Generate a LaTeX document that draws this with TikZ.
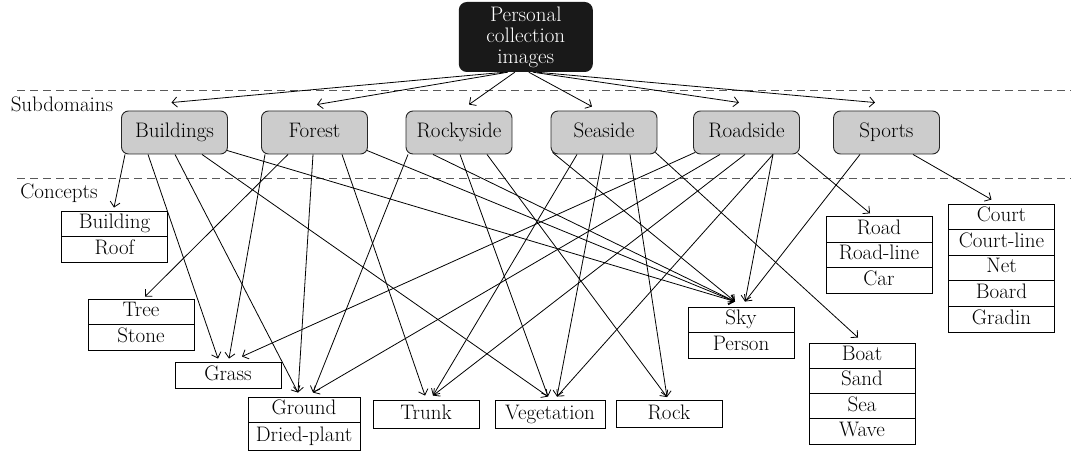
\documentclass[tikz,border=0pt]{standalone}
\usepackage{tikz}
\usetikzlibrary{arrows.meta}

\begin{document}
\begin{tikzpicture}[x=1pt,y=-1pt,font=\fontsize{21}{21}\selectfont,
  txt/.style={text height=14pt,text depth=4pt,inner sep=0pt},
  root/.style={fill=black!90,rounded corners=8pt,text=white,minimum width=134pt,minimum height=70pt,align=center,inner sep=0pt},
  subdom/.style={txt,draw=black!85,line width=0.9pt,fill=black!20,rounded corners=7pt,minimum width=106pt,minimum height=43pt},
  concept/.style={txt,draw,line width=0.9pt,minimum width=106pt,minimum height=25.5pt},
  link/.style={line width=0.8pt,-{Straight Barb[length=5pt,width=10pt]}},
  sep/.style={line width=0.9pt,black!65,dash pattern=on 8pt off 5pt}]

\useasboundingbox (0,0) rectangle (1071,454);

\draw[sep] (17,90) -- (1071,90);
\draw[sep] (17,178) -- (1071,178);
\node[txt] (sublabel) at (62,107) {Subdomains};
\node[txt] (conlabel) at (59,194) {Concepts};

\node[root] (root) at (525.8,37) {Personal\\collection\\images};

\node[subdom] (buildings) at (174.5,132.5) {Buildings};
\node[subdom] (forest) at (314.5,132.5) {Forest};
\node[subdom] (rockyside) at (459,132.5) {Rockyside};
\node[subdom] (seaside) at (604,132.5) {Seaside};
\node[subdom] (roadside) at (746.5,132.5) {Roadside};
\node[subdom] (sports) at (886.5,132.5) {Sports};

\node[concept] (building) at (114.5,223.75) {Building};
\node[concept] (roof) at (114.5,249.25) {Roof};
\node[concept] (tree) at (141,311.75) {Tree};
\node[concept] (stone) at (141,337.25) {Stone};
\node[concept,minimum height=26pt] (grass) at (228,375) {Grass};
\node[concept,minimum width=112pt] (ground) at (304,409.75) {Ground};
\node[concept,minimum width=112pt,minimum height=27.5pt] (dried) at (304,436.25) {Dried-plant};
\node[concept,minimum height=28pt] (trunk) at (426,414) {Trunk};
\node[concept,minimum width=110pt,minimum height=28pt] (vegetation) at (550,414) {Vegetation};
\node[concept,minimum height=27pt] (rock) at (669,414) {Rock};
\node[concept] (sky) at (741,319.75) {Sky};
\node[concept] (person) at (741,345.25) {Person};
\foreach \t [count=\i] in {Boat,Sand,Sea,Wave}
  \node[concept,minimum height=25.25pt] (sea\i) at (862,{330.4+25.25*\i}) {\t};
\foreach \t [count=\i] in {Road,Road-line,Car}
  \node[concept] (road\i) at (879,{204+25.5*\i}) {\t};
\foreach \t [count=\i] in {Court,Court-line,Net,Board,Gradin}
  \node[concept,minimum height=25.6pt] (court\i) at (1001.5,{191.2+25.6*\i}) {\t};

\draw[link] ([xshift=-21pt]root.south) -- ([xshift=-3pt,yshift=8pt]buildings.north);
\draw[link] ([xshift=-18pt]root.south) -- ([xshift=2.5pt,yshift=6pt]forest.north);
\draw[link] ([xshift=-11pt]root.south) -- ([xshift=10pt,yshift=6pt]rockyside.north);
\draw[link] ([xshift=3pt]root.south) -- ([xshift=-12pt,yshift=4pt]seaside.north);
\draw[link] ([xshift=7pt]root.south) -- ([xshift=-7.5pt,yshift=8pt]roadside.north);
\draw[link] ([xshift=11pt]root.south) -- ([xshift=-11.5pt,yshift=8pt]sports.north);

\draw[link] ([xshift=-49.5pt]buildings.south) -- ([xshift=-0.5pt,yshift=3pt]building.north);
\draw[link] ([xshift=-26.5pt]buildings.south) -- ([xshift=-10pt,yshift=3pt]grass.north);
\draw[link] ([xshift=0.5pt]buildings.south) -- ([xshift=-6pt,yshift=4pt]ground.north);
\draw[link] ([xshift=27.5pt]buildings.south) -- ([xshift=-2pt,yshift=3pt]vegetation.north);
\draw[link] ([xshift=-1pt,yshift=4pt]buildings.south east) -- ([xshift=-6pt,yshift=5pt]sky.north);

\draw[link] ([xshift=-49.5pt]forest.south) -- ([xshift=1pt,yshift=3pt]grass.north);
\draw[link] ([xshift=-26.5pt]forest.south) -- ([xshift=4pt,yshift=2pt]tree.north);
\draw[link] ([xshift=-1.5pt]forest.south) -- ([xshift=-6pt,yshift=4pt]ground.north);
\draw[link] ([xshift=27.5pt]forest.south) -- ([xshift=-1pt,yshift=4pt]trunk.north);
\draw[link] ([xshift=-1pt,yshift=4pt]forest.south east) -- ([xshift=-6pt,yshift=5pt]sky.north);

\draw[link] ([xshift=-51pt]rockyside.south) -- ([xshift=9pt,yshift=4pt]ground.north);
\draw[link] ([xshift=-26pt]rockyside.south) -- ([xshift=-6pt,yshift=5pt]sky.north);
\draw[link] ([xshift=1pt]rockyside.south) -- ([xshift=-2pt,yshift=3pt]vegetation.north);
\draw[link] ([xshift=28pt]rockyside.south) -- ([xshift=-2pt,yshift=3pt]rock.north);

\draw[link] ([xshift=2pt,yshift=2pt]seaside.south west) -- ([xshift=-6pt,yshift=5pt]sky.north);
\draw[link] ([xshift=-27pt]seaside.south) -- ([xshift=7pt,yshift=4pt]trunk.north);
\draw[link] ([xshift=-1pt]seaside.south) -- ([xshift=7pt,yshift=3pt]vegetation.north);
\draw[link] ([xshift=26pt]seaside.south) -- ([xshift=-2pt,yshift=3pt]rock.north);
\draw[link] ([xshift=-2pt,yshift=2pt]seaside.south east) -- ([xshift=-4pt,yshift=5pt]sea1.north);

\draw[link] ([xshift=2pt,yshift=2pt]roadside.south west) -- ([xshift=14pt,yshift=5pt]grass.north);
\draw[link] ([xshift=-26.5pt]roadside.south) -- ([xshift=9pt,yshift=4pt]ground.north);
\draw[link] ([xshift=-1.5pt]roadside.south) -- ([xshift=7pt,yshift=4pt]trunk.north);
\draw[link] ([xshift=26.5pt]roadside.south) -- ([xshift=7pt,yshift=3pt]vegetation.north);
\draw[link] ([xshift=26.5pt]roadside.south) -- ([xshift=4pt,yshift=5pt]sky.north);
\draw[link] ([xshift=-2pt,yshift=1pt]roadside.south east) -- ([xshift=-9pt,yshift=3pt]road1.north);

\draw[link] ([xshift=-26.5pt]sports.south) -- ([xshift=4pt,yshift=5pt]sky.north);
\draw[link] ([xshift=26.5pt]sports.south) -- ([xshift=-10pt,yshift=4pt]court1.north);
\end{tikzpicture}
\end{document}
